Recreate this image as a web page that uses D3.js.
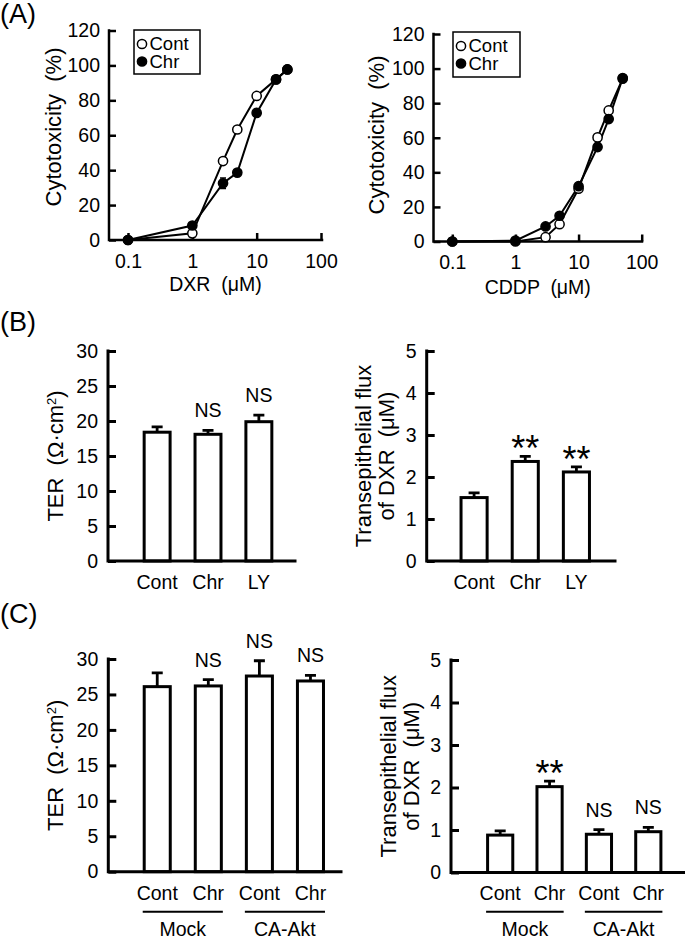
<!DOCTYPE html>
<html><head><meta charset="utf-8">
<script src="https://cdn.jsdelivr.net/npm/d3@7"></script>
<style>
html,body{margin:0;padding:0;background:#fff;}
svg text{font-family:"Liberation Sans",Arial,sans-serif;fill:#000;}
</style></head><body>
<svg id="fig" width="685" height="939"></svg>
<script>
// ---------- DATA ----------
// Panel A: cytotoxicity (%) vs dose (µM), log x
const dxrDoses   = [0.1, 1, 3, 5, 10, 20, 30];
const dxrCont    = [0, 3.8, 45.2, 63.3, 82.5, 92.0, 97.7];
const dxrContErr = [0, 0.8, 1.5, 1.2, 1.0, 0.8, 0.5];
const dxrChr     = [0, 8.3, 32.5, 38.6, 72.8, 92.0, 97.7];
const dxrChrErr  = [0, 1.2, 3.0, 1.5, 1.5, 1.0, 0.5];

const cddpDoses   = [0.1, 1, 3, 5, 10, 20, 30, 50];
const cddpCont    = [0, 0, 2.5, 10.0, 30.5, 60.2, 75.8, 94.2];
const cddpContErr = [0, 0, 0.8, 1.0, 1.2, 1.5, 1.2, 1.0];
const cddpChr     = [0, 0.5, 8.7, 14.9, 32.0, 54.6, 70.8, 94.5];
const cddpChrErr  = [0, 0.3, 1.0, 1.2, 1.5, 2.0, 2.0, 1.0];

const doseTicks = [0.1, 1, 10, 100];
const cytoTicks = [0, 20, 40, 60, 80, 100, 120];
const seriesNames = ["Cont", "Chr"];

// Panel B
const catsB    = ["Cont", "Chr", "LY"];
const terB     = [18.4, 18.1, 19.9];
const terBErr  = [0.75, 0.55, 0.95];
const terBSig  = ["", "NS", "NS"];
const fluxB    = [1.51, 2.37, 2.12];
const fluxBErr = [0.11, 0.12, 0.12];
const fluxBSig = ["", "**", "**"];

// Panel C
const catsC    = ["Cont", "Chr", "Cont", "Chr"];
const groupsC  = ["Mock", "CA-Akt"];
const terC     = [26.1, 26.2, 27.6, 26.9];
const terCErr  = [1.95, 0.9, 2.15, 0.8];
const terCSig  = ["", "NS", "NS", "NS"];
const fluxC    = [0.88, 2.02, 0.90, 0.96];
const fluxCErr = [0.10, 0.13, 0.11, 0.10];
const fluxCSig = ["", "**", "NS", "NS"];

const terTicks  = [0, 5, 10, 15, 20, 25, 30];
const fluxTicks = [0, 1, 2, 3, 4, 5];

// ---------- DRAWING ----------
const svg = d3.select("#fig");
const FS = 19.5;   // tick / category labels
const TS = 22;     // axis titles
const FF = "Liberation Sans, Arial, sans-serif";

function panelLabel(txt, x, y) {
  svg.append("text").attr("x", x).attr("y", y).attr("font-size", 27).text(txt);
}

function rotTitle(lines, x0, cy, dx) {
  lines.forEach((ln, i) => {
    const t = svg.append("text")
      .attr("transform", `translate(${x0 + i * dx},${cy}) rotate(-90)`)
      .attr("text-anchor", "middle").attr("font-size", TS)
      .style("white-space", "pre");
    ln.forEach(part => {
      const s = t.append("tspan").text(part.t);
      if (part.sup) s.attr("font-size", 13).attr("baseline-shift", "super");
    });
  });
}

function lineChart(c, doses, cont, contErr, chr, chrErr, xTitle) {
  const g = svg.append("g");
  const x = d3.scaleLog().domain([0.1, 100]).range(c.xr);
  const y = d3.scaleLinear().domain([0, 120]).range([c.y0, c.y120]);

  const ya = g.append("g").attr("transform", `translate(${c.ax},0)`)
    .call(d3.axisLeft(y).tickValues(cytoTicks).tickFormat(d => String(d)).tickSizeInner(-7).tickSizeOuter(0).tickPadding(9));
  const xa = g.append("g").attr("transform", `translate(0,${c.y0})`)
    .call(d3.axisBottom(x).tickValues(doseTicks).tickFormat(d => String(d)).tickSizeInner(-7).tickSizeOuter(0).tickPadding(14));
  [ya, xa].forEach(a => {
    a.select(".domain").remove();
    a.selectAll(".tick line").attr("stroke", "#000").attr("stroke-width", 2.5);
    a.selectAll(".tick text").attr("font-size", FS).attr("font-family", FF);
  });
  g.append("path").attr("d", `M${c.ax},${y(120)}V${c.y0}H${c.xEnd}`)
    .attr("fill", "none").attr("stroke", "#000").attr("stroke-width", 2.5).attr("stroke-linecap", "square");

  const mk = (ds, vs, es) => ds.map((d, i) => ({d, v: vs[i], e: es[i]}));
  const sets = [
    {pts: mk(doses, cont, contErr), fill: "#fff"},
    {pts: mk(doses, chr, chrErr), fill: "#000"}
  ];
  const line = d3.line().x(p => x(p.d)).y(p => y(p.v));
  sets.forEach(s => {
    g.append("path").datum(s.pts).attr("d", line).attr("fill", "none")
      .attr("stroke", "#000").attr("stroke-width", 2);
  });
  sets.forEach(s => {
    s.pts.filter(p => p.e > 0).forEach(p => {
      g.append("path").attr("d", `M${x(p.d)},${y(p.v - p.e)}V${y(p.v + p.e)}M${x(p.d) - 3},${y(p.v - p.e)}h6M${x(p.d) - 3},${y(p.v + p.e)}h6`)
        .attr("stroke", "#000").attr("stroke-width", 1.5).attr("fill", "none");
    });
  });
  sets.forEach(s => {
    g.selectAll(null).data(s.pts).join("circle")
      .attr("cx", p => x(p.d)).attr("cy", p => y(p.v)).attr("r", 4.6)
      .attr("fill", s.fill).attr("stroke", "#000").attr("stroke-width", 1.5);
  });

  // legend
  const L = c.legend;
  g.append("rect").attr("x", L.x).attr("y", L.y).attr("width", L.w).attr("height", L.h)
    .attr("fill", "#fff").attr("stroke", "#000").attr("stroke-width", 1.5);
  seriesNames.forEach((n, i) => {
    const cy = L.y + 14 + i * 17.5;
    g.append("circle").attr("cx", L.x + 8).attr("cy", cy).attr("r", 4.6)
      .attr("fill", sets[i].fill).attr("stroke", "#000").attr("stroke-width", 1.5);
    g.append("text").attr("x", L.x + 15.5).attr("y", cy + 6.3).attr("font-size", 18.5).text(n);
  });

  svg.append("text").attr("x", (c.ax + c.xEnd) / 2).attr("y", c.xTitleY)
    .attr("text-anchor", "middle").attr("font-size", FS).style("white-space", "pre").text(xTitle);
  rotTitle([[{t: "Cytotoxicity  (%)"}]], c.titleX, c.titleCY, 0);
}

function barChart(c, cats, vals, errs, sig, ticks, ymax, titleLines, groups) {
  const g = svg.append("g");
  const idx = d3.range(cats.length);
  const x = d3.scaleBand().domain(idx).range(c.band).paddingInner(0.49).paddingOuter(0.245);
  const y = d3.scaleLinear().domain([0, ymax]).range([c.y0, c.yTop]);

  const ya = g.append("g").attr("transform", `translate(${c.ax},0)`)
    .call(d3.axisLeft(y).tickValues(ticks).tickFormat(d => String(d)).tickSizeInner(-8).tickSizeOuter(0).tickPadding(10));
  ya.select(".domain").remove();
  ya.selectAll(".tick line").attr("stroke", "#000").attr("stroke-width", 3);
  ya.selectAll(".tick text").attr("font-size", FS).attr("font-family", FF);

  const xa = g.append("g").attr("transform", `translate(0,${c.y0})`)
    .call(d3.axisBottom(x).tickFormat(i => cats[i]).tickSize(0).tickPadding(14));
  xa.select(".domain").remove();
  xa.selectAll(".tick text").attr("font-size", FS).attr("font-family", FF);

  g.selectAll(null).data(idx).join("rect")
    .attr("x", i => x(i)).attr("width", x.bandwidth())
    .attr("y", i => y(vals[i])).attr("height", i => c.y0 - y(vals[i]))
    .attr("fill", "#fff").attr("stroke", "#000").attr("stroke-width", 3);
  idx.forEach(i => {
    const cx = x(i) + x.bandwidth() / 2;
    g.append("path").attr("d", `M${cx},${y(vals[i])}V${y(vals[i] + errs[i])}M${cx - 5.5},${y(vals[i] + errs[i])}h11`)
      .attr("stroke", "#000").attr("stroke-width", 2.8).attr("fill", "none");
    if (sig[i] === "NS") {
      g.append("text").attr("x", cx).attr("y", y(vals[i] + errs[i]) - 13)
        .attr("text-anchor", "middle").attr("font-size", FS).text("NS");
    } else if (sig[i] === "**") {
      g.append("text").attr("x", cx).attr("y", y(vals[i] + errs[i]) + 5)
        .attr("text-anchor", "middle").attr("font-size", 36).text("**");
    }
  });

  g.append("path").attr("d", `M${c.ax},${y(ymax)}V${c.y0}H${c.xEnd}`)
    .attr("fill", "none").attr("stroke", "#000").attr("stroke-width", 3).attr("stroke-linecap", "square");

  if (groups) {
    groups.forEach((gn, k) => {
      const a = x(2 * k) - 1.5, b = x(2 * k + 1) + x.bandwidth() + 1.5;
      g.append("line").attr("x1", a).attr("x2", b).attr("y1", c.groupY).attr("y2", c.groupY)
        .attr("stroke", "#000").attr("stroke-width", 2);
      g.append("text").attr("x", (a + b) / 2).attr("y", c.groupY + 24.5)
        .attr("text-anchor", "middle").attr("font-size", FS).text(gn);
    });
  }

  rotTitle(titleLines, c.titleX, (c.y0 + c.yTop) / 2, 22.5);
}

panelLabel("(A)", 0, 23);
panelLabel("(B)", 0, 331);
panelLabel("(C)", 0, 623);

// Panel A
lineChart({ax: 109, xEnd: 322, xr: [128, 321], y0: 240, y120: 30.5,
  titleX: 61, titleCY: 127, xTitleY: 291,
  legend: {x: 134, y: 30, w: 66, h: 44}},
  dxrDoses, dxrCont, dxrContErr, dxrChr, dxrChrErr, "DXR  (\u03BCM)");
lineChart({ax: 433.5, xEnd: 642, xr: [452.3, 641.7], y0: 241.5, y120: 34,
  titleX: 384, titleCY: 135, xTitleY: 294,
  legend: {x: 453, y: 32, w: 67, h: 45}},
  cddpDoses, cddpCont, cddpContErr, cddpChr, cddpChrErr, "CDDP  (\u03BCM)");

// Panel B
const terTitle = [[{t: "TER  (\u03A9\u00B7cm"}, {t: "2", sup: true}, {t: ")"}]];
const fluxTitle = [[{t: "Transepithelial flux"}], [{t: "of DXR  (\u03BCM)"}]];
barChart({ax: 108, xEnd: 295, y0: 561, yTop: 351, band: [131.7, 284.3], titleX: 63},
  catsB, terB, terBErr, terBSig, terTicks, 30, terTitle);
barChart({ax: 426.7, xEnd: 615, y0: 561, yTop: 351, band: [448.5, 602], titleX: 371},
  catsB, fluxB, fluxBErr, fluxBSig, fluxTicks, 5, fluxTitle);

// Panel C
barChart({ax: 108.3, xEnd: 341, y0: 871.7, yTop: 659, band: [131.7, 336], titleX: 63, groupY: 911.7},
  catsC, terC, terCErr, terCSig, terTicks, 30, terTitle, groupsC);
barChart({ax: 451, xEnd: 685, y0: 872.5, yTop: 660, band: [475.5, 673], titleX: 396, groupY: 911.7},
  catsC, fluxC, fluxCErr, fluxCSig, fluxTicks, 5, fluxTitle, groupsC);
</script>
</body></html>
